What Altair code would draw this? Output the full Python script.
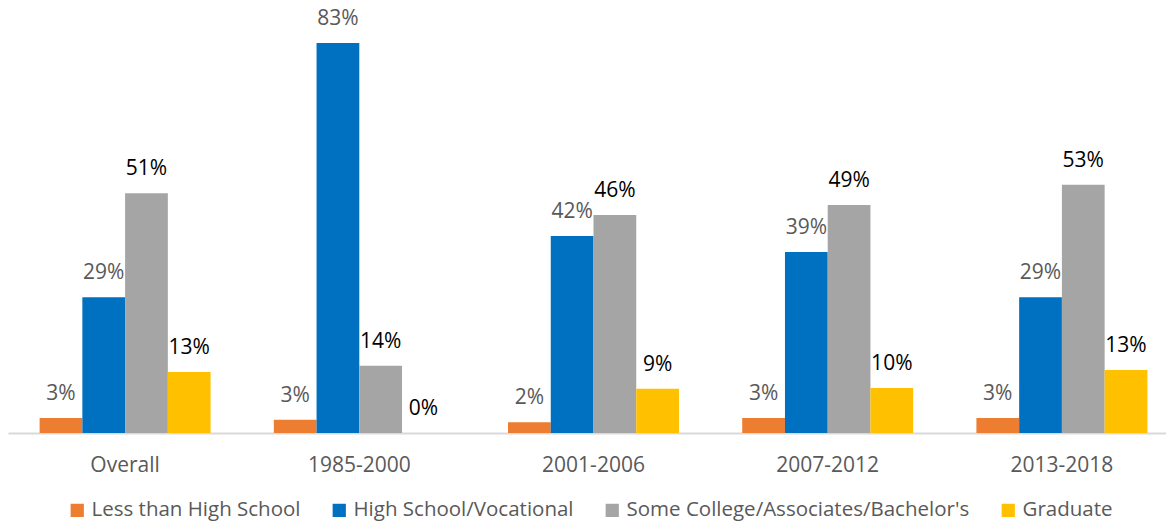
import altair as alt
import pandas as pd

categories = ["Overall", "1985-2000", "2001-2006", "2007-2012", "2013-2018"]
series = ["Less than High School", "High School/Vocational",
          "Some College/Associates/Bachelor's", "Graduate"]
less_hs = [3.2, 2.8, 2.3, 3.2, 3.2]
hs_voc = [28.9, 83.0, 41.9, 38.5, 28.9]
some_college = [51.0, 14.3, 46.4, 48.5, 52.8]
graduate = [13.0, 0.0, 9.4, 9.6, 13.4]
less_hs_lbl = ["3%", "3%", "2%", "3%", "3%"]
hs_voc_lbl = ["29%", "83%", "42%", "39%", "29%"]
some_college_lbl = ["51%", "14%", "46%", "49%", "53%"]
graduate_lbl = ["13%", "0%", "9%", "10%", "13%"]

rows = []
for s, vals, lbls in zip(series, [less_hs, hs_voc, some_college, graduate],
                         [less_hs_lbl, hs_voc_lbl, some_college_lbl, graduate_lbl]):
    for c, v, l in zip(categories, vals, lbls):
        rows.append({"category": c, "series": s, "value": v, "label": l})
df = pd.DataFrame(rows)

FONT = "Open Sans"
bar_colors = ["#ED7D31", "#0070C0", "#A5A5A5", "#FFC000"]
text_colors = ["#595959", "#595959", "#000000", "#000000"]

x = alt.X("category:N", sort=categories,
          scale=alt.Scale(range=[0, 1171], paddingInner=0.27, paddingOuter=0.135),
          axis=alt.Axis(title=None, labelAngle=0, ticks=False, labelPadding=38,
                        labelBaseline="alphabetic",
                        labelFontSize=21, labelColor="#595959", labelFont=FONT,
                        domainColor="#D9D9D9", domainWidth=2, grid=False))
xo = alt.XOffset("series:N", sort=series, scale=alt.Scale(paddingInner=0, paddingOuter=0))
y = alt.Y("value:Q", scale=alt.Scale(domain=[0, 90], nice=False, zero=True), axis=None)

base = alt.Chart(df)
bars = base.mark_bar().encode(
    x=x, xOffset=xo, y=y,
    color=alt.Color("series:N", sort=series,
                    scale=alt.Scale(domain=series, range=bar_colors),
                    legend=alt.Legend(title=None, orient="none", direction="horizontal",
                                      legendX=59, legendY=490,
                                      symbolType="square", symbolSize=175,
                                      symbolStrokeWidth=0, labelFontSize=20.5,
                                      labelFont=FONT, labelColor="#595959",
                                      columnPadding=28, labelOffset=4,
                                      labelLimit=500)),
)
texts = base.mark_text(baseline="alphabetic", dy=-18, fontSize=21, font=FONT).encode(
    x=x, xOffset=xo, y=y, text="label:N",
    color=alt.Color("series:N", sort=series,
                    scale=alt.Scale(domain=series, range=text_colors), legend=None),
)

chart = (alt.layer(bars, texts)
         .resolve_scale(color="independent")
         .properties(width=1158, height=423,
                     autosize=alt.AutoSizeParams(type="none"),
                     padding={"left": 0, "top": 2, "right": 0, "bottom": 90})
         .configure_view(stroke=None))

chart.save("out.html", embed_options={"renderer": "svg", "actions": False})
